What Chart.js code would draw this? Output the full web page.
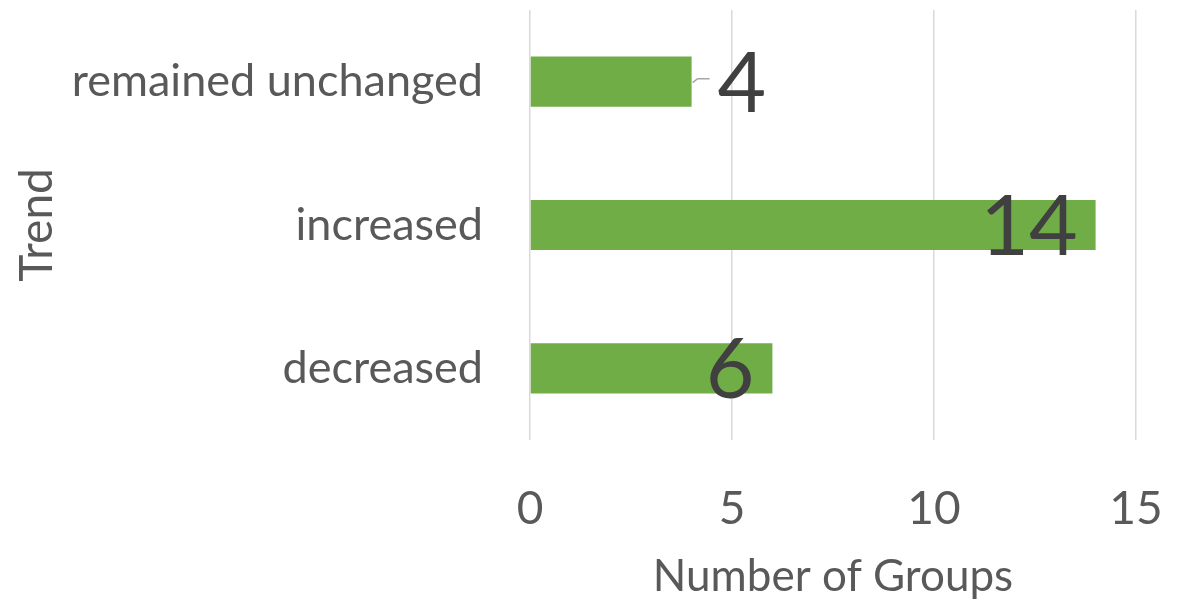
<!DOCTYPE html>
<html>
<head>
<meta charset="utf-8">
<script src="https://cdn.jsdelivr.net/npm/chart.js@4"></script>
<style>
  html, body { margin: 0; padding: 0; background: #fff; }
  #wrap { width: 1178px; height: 603px; }
</style>
</head>
<body>
<div id="wrap"><canvas id="trendChart"></canvas></div>
<script>
// data
const trends = ['remained unchanged', 'increased', 'decreased'];
const groupCounts = [4, 14, 6];
const xTicks = [0, 5, 10, 15];

const FONT = 'Lato, "Noto Sans", sans-serif';

// big value labels, like the Excel "best fit" data labels
const valueLabels = {
  id: 'valueLabels',
  afterDatasetsDraw(chart) {
    const ctx = chart.ctx;
    const meta = chart.getDatasetMeta(0);
    ctx.save();
    ctx.fillStyle = '#404040';
    ctx.font = '84px ' + FONT;
    ctx.textBaseline = 'middle';
    meta.data.forEach((bar, i) => {
      const txt = String(groupCounts[i]);
      const x = bar.x, y = bar.y;
      if (i === 0) {
        // outside end with a small leader line
        ctx.strokeStyle = '#a6a6a6';
        ctx.lineWidth = 1.5;
        ctx.beginPath();
        ctx.moveTo(x + 1, y + 1);
        ctx.lineTo(x + 6, y - 3);
        ctx.lineTo(x + 18, y - 3);
        ctx.stroke();
        ctx.textAlign = 'left';
        ctx.fillText(txt, x + 26, y + 3);
      } else {
        ctx.textAlign = 'right';
        ctx.fillText(txt, x - 18, y + 3);
      }
    });
    ctx.restore();
  }
};

// keep the plot area where the reference has it
function noPad(scale) {
  scale.paddingLeft = 0;
  scale.paddingRight = 0;
  scale.paddingTop = 0;
  scale.paddingBottom = 0;
}

const ctx = document.getElementById('trendChart').getContext('2d');
const chart = new Chart(ctx, {
  type: 'bar',
  data: {
    labels: trends,
    datasets: [{
      data: groupCounts,
      backgroundColor: '#70ad47',
      barPercentage: 0.35,
      categoryPercentage: 1
    }]
  },
  plugins: [valueLabels],
  options: {
    indexAxis: 'y',
    responsive: true,
    maintainAspectRatio: false,
    animation: false,
    layout: { padding: { left: 0, right: 42, top: 10, bottom: 0 } },
    plugins: {
      legend: { display: false },
      tooltip: { enabled: false }
    },
    scales: {
      x: {
        min: 0,
        max: 15,
        afterBuildTicks: (scale) => { scale.ticks = xTicks.map(v => ({ value: v })); },
        afterFit: (scale) => { scale.height = 163; noPad(scale); },
        grid: { color: '#d9d9d9', lineWidth: 1.5, drawTicks: false },
        border: { display: false },
        ticks: {
          color: '#595959',
          font: { family: FONT, size: 46 },
          padding: 42
        },
        title: {
          display: true,
          text: 'Number of Groups',
          color: '#595959',
          font: { family: FONT, size: 44 },
          padding: { top: 0, bottom: 0 }
        }
      },
      y: {
        afterFit: (scale) => { scale.width = 530; noPad(scale); },
        grid: { display: false, drawTicks: false },
        border: { display: false },
        ticks: {
          color: '#595959',
          font: { family: FONT, size: 45 },
          padding: 47
        },
        title: {
          display: true,
          text: 'Trend',
          color: '#595959',
          font: { family: FONT, size: 46 },
          padding: { top: 10, bottom: 0 }
        }
      }
    }
  }
});
</script>
</body>
</html>
